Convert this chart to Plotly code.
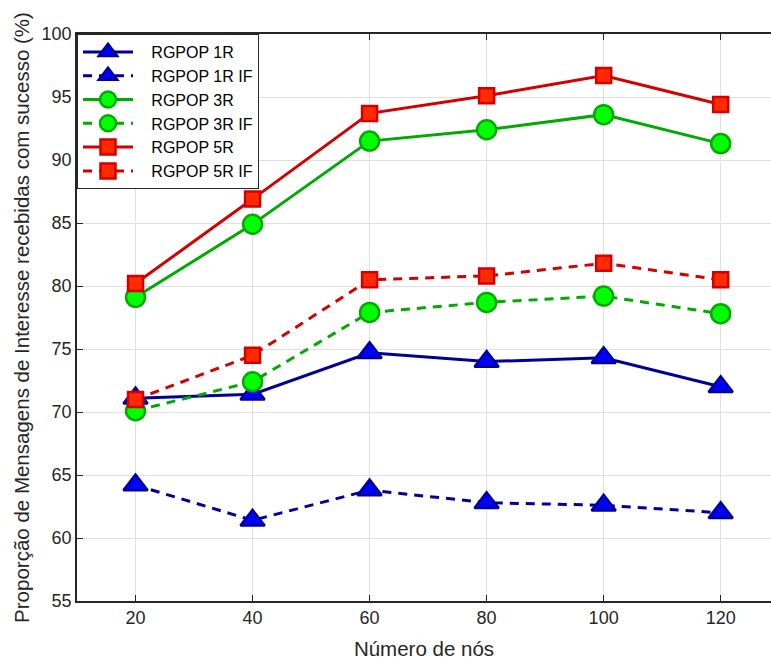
import plotly.graph_objects as go

# Network size (number of nodes)
nodes = [20, 40, 60, 80, 100, 120]

# Success ratio of received Interest messages (%)
rgpop_1r = [71.1, 71.4, 74.7, 74.0, 74.3, 72.0]
rgpop_1r_if = [64.2, 61.4, 63.8, 62.8, 62.6, 62.0]
rgpop_3r = [79.1, 84.9, 91.5, 92.4, 93.6, 91.3]
rgpop_3r_if = [70.1, 72.4, 77.9, 78.7, 79.2, 77.8]
rgpop_5r = [80.2, 86.9, 93.7, 95.1, 96.7, 94.4]
rgpop_5r_if = [71.0, 74.5, 80.5, 80.8, 81.8, 80.5]

series_names = ["RGPOP 1R", "RGPOP 1R IF", "RGPOP 3R", "RGPOP 3R IF", "RGPOP 5R", "RGPOP 5R IF"]
y_ticks = [55, 60, 65, 70, 75, 80, 85, 90, 95, 100]
x_ticks = [20, 40, 60, 80, 100, 120]

FONT = "Liberation Sans, Arial, Helvetica, sans-serif"
DASH = "9px,7px"

styles = [
    dict(line=dict(color="#000099", width=3), symbol="triangle-up", size=21,
         fill="#0000FF", edge="#000099"),
    dict(line=dict(color="#000099", width=3, dash=DASH), symbol="triangle-up", size=21,
         fill="#0000FF", edge="#000099"),
    dict(line=dict(color="#00AA00", width=3), symbol="circle", size=19,
         fill="#00FF00", edge="#00AA00"),
    dict(line=dict(color="#00AA00", width=3, dash=DASH), symbol="circle", size=19,
         fill="#00FF00", edge="#00AA00"),
    dict(line=dict(color="#D40000", width=3), symbol="square", size=15,
         fill="#FF2A00", edge="#D40000"),
    dict(line=dict(color="#D40000", width=3, dash=DASH), symbol="square", size=15,
         fill="#FF2A00", edge="#D40000"),
]

series = [rgpop_1r, rgpop_1r_if, rgpop_3r, rgpop_3r_if, rgpop_5r, rgpop_5r_if]

fig = go.Figure()
for name, vals, st in zip(series_names, series, styles):
    fig.add_trace(go.Scatter(
        x=nodes, y=vals, name="&nbsp;&nbsp;&nbsp;" + name, mode="lines+markers",
        line=st["line"],
        marker=dict(symbol=st["symbol"], size=st["size"], color=st["fill"],
                    line=dict(color=st["edge"], width=2.5)),
    ))

axis_common = dict(
    showgrid=True, gridcolor="#E0E0E0", gridwidth=1,
    zeroline=False, ticks="inside", ticklen=6, tickwidth=1, tickcolor="#262626",
    linecolor="#262626", linewidth=1.5, showline=True,
    tickfont=dict(family=FONT, size=18, color="#262626"),
)

fig.update_xaxes(
    **axis_common, range=[10, 128.6], tickvals=x_ticks, mirror="ticks",
    title=dict(text="Número de nós", font=dict(family=FONT, size=20.5, color="#262626"),
               standoff=14),
)
fig.update_yaxes(
    **axis_common, range=[55, 100], tickvals=y_ticks, mirror=False,
    title=dict(text="Proporção de Mensagens de Interesse recebidas com sucesso (%)",
               font=dict(family=FONT, size=20.5, color="#262626"), standoff=6),
)

fig.update_layout(
    width=771, height=662,
    margin=dict(l=77, r=0, t=34, b=61),
    paper_bgcolor="white", plot_bgcolor="white",
    font=dict(family=FONT, color="#262626"),
    legend=dict(
        x=0, y=1, xanchor="left", yanchor="top",
        bgcolor="white", bordercolor="#262626", borderwidth=1,
        font=dict(family=FONT, size=16, color="#000000"),
        itemwidth=50, tracegroupgap=0,
    ),
    showlegend=True,
)

fig.write_html("out.html")
